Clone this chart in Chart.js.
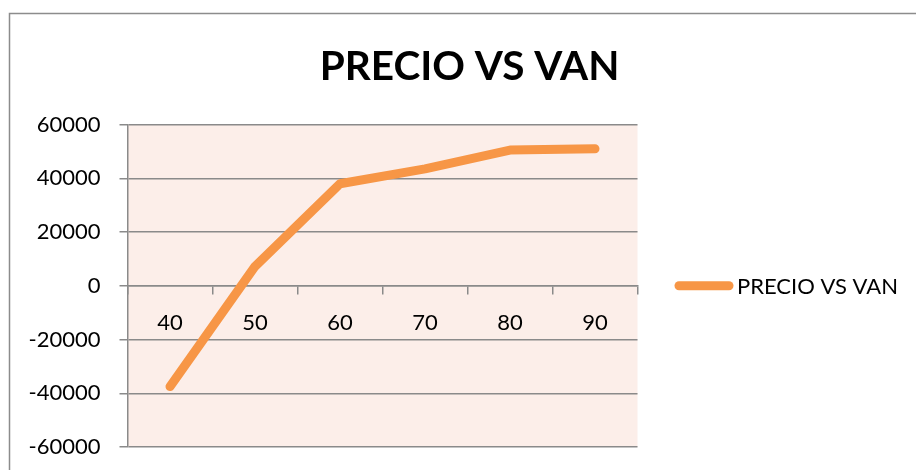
<!DOCTYPE html>
<html>
<head>
<meta charset="utf-8">
<script src="https://cdn.jsdelivr.net/npm/chart.js@4"></script>
<style>
  html, body { margin: 0; padding: 0; background: #ffffff; }
  #wrap { width: 916px; height: 470px; }
</style>
</head>
<body>
<div id="wrap"><canvas id="chart" width="916" height="470"></canvas></div>
<script>
// DATA
const precios = ["40", "50", "60", "70", "80", "90"];
const van = [-37500, 7200, 38000, 43500, 50500, 51000];
const serieLabel = "PRECIO VS VAN";
const yMin = -60000;
const yMax = 60000;
const yStep = 20000;

// STYLE
const naranja = "#F79646";
const gris = "#8a8a8a";
const fondo = "#FCEEE9";
const fuente = "Lato, 'Liberation Sans', sans-serif";

// frame + plot background
const fondoPlugin = {
    id: "fondo",
    beforeDraw(chart) {
        const { ctx, chartArea: a } = chart;
        ctx.save();
        ctx.fillStyle = fondo;
        ctx.fillRect(a.left, a.top, a.right - a.left, a.bottom - a.top);
        ctx.strokeStyle = "#8c8c8c";
        ctx.lineWidth = 1.5;
        ctx.beginPath();
        ctx.moveTo(9.5, chart.height + 2);
        ctx.lineTo(9.5, 13.5);
        ctx.lineTo(chart.width + 2, 13.5);
        ctx.stroke();
        ctx.restore();
    }
};

// legend drawn at the right of the plot
const leyendaPlugin = {
    id: "leyenda",
    afterDraw(chart) {
        const { ctx } = chart;
        const ds = chart.data.datasets[0];
        const y = chart.scales.y.getPixelForValue(0);
        ctx.save();
        ctx.strokeStyle = ds.borderColor;
        ctx.lineWidth = 9;
        ctx.lineCap = "round";
        ctx.beginPath();
        ctx.moveTo(679, y);
        ctx.lineTo(729, y);
        ctx.stroke();
        ctx.fillStyle = "#000";
        ctx.font = "22px " + fuente;
        ctx.textBaseline = "middle";
        ctx.textAlign = "left";
        ctx.fillText(ds.label, 737, y + 1);
        ctx.restore();
    }
};

new Chart(document.getElementById("chart"), {
    type: "line",
    data: {
        labels: precios,
        datasets: [{
            label: serieLabel,
            data: van,
            borderColor: naranja,
            backgroundColor: naranja,
            borderWidth: 9,
            borderCapStyle: "round",
            borderJoinStyle: "round",
            pointRadius: 0,
            tension: 0,
            fill: false
        }]
    },
    options: {
        responsive: false,
        animation: false,
        layout: { autoPadding: false, padding: { left: 23, right: 0, top: 0, bottom: 23 } },
        plugins: {
            legend: { display: false },
            tooltip: { enabled: false },
            title: {
                display: true,
                text: serieLabel,
                color: "#000",
                font: { family: fuente, size: 40.5, weight: "bold" },
                padding: { top: 43, bottom: 33 }
            }
        },
        scales: {
            x: {
                position: { y: 0 },
                offset: true,
                // axis sits on y = 0, so it should not take room at the bottom
                afterFit(scale) { scale.height = 0; },
                grid: {
                    offset: true,
                    drawOnChartArea: false,
                    drawTicks: true,
                    tickLength: 8,
                    color: gris,
                    lineWidth: 1.5
                },
                border: { display: true, color: gris, width: 1.5 },
                ticks: {
                    color: "#000",
                    font: { family: fuente, size: 22 },
                    padding: 16,
                    maxRotation: 0
                }
            },
            y: {
                min: yMin,
                max: yMax,
                afterFit(scale) {
                    scale.width = 104.5;
                    scale.paddingTop = 0;
                    scale.paddingBottom = 0;
                },
                grid: {
                    color: gris,
                    lineWidth: 1.5,
                    drawTicks: true,
                    tickLength: 8
                },
                border: { display: true, color: gris, width: 1.5 },
                ticks: {
                    stepSize: yStep,
                    color: "#000",
                    font: { family: fuente, size: 22 },
                    padding: 19,
                    callback: v => String(v)
                }
            },
            // empty right-hand box that keeps room for the legend
            hueco: {
                type: "linear",
                position: "right",
                afterFit(scale) { scale.width = 278.5; },
                grid: { display: false },
                border: { display: false },
                ticks: { display: false }
            }
        }
    },
    plugins: [fondoPlugin, leyendaPlugin]
});
</script>
</body>
</html>
